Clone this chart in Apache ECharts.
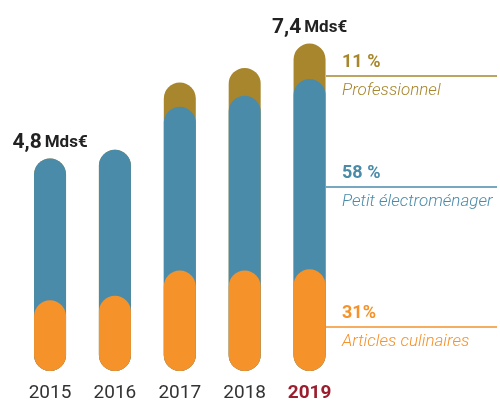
<!DOCTYPE html>
<html>
<head>
<meta charset="utf-8">
<script src="https://cdn.jsdelivr.net/npm/echarts@6/dist/echarts.min.js"></script>
<style>
  html, body { margin: 0; padding: 0; background: #fff; }
  #chart { width: 500px; height: 403px; }
</style>
</head>
<body>
<div id="chart"></div>
<script>
const years = ['2015', '2016', '2017', '2018', '2019']
// Mds€ per segment
const culinaires = [1.6, 1.7, 2.27, 2.27, 2.3]
const electro = [3.2, 3.3, 3.7, 3.95, 4.3]
const professionnel = [0, 0, 0.55, 0.63, 0.8]
const totalLabels = ['4,8', '', '', '', '7,4']
const shareLabels = ['31%', '58 %', '11 %']
const shareNames = ['Articles culinaires', 'Petit électroménager', 'Professionnel']

const orange = '#F5922A'
const blue = '#4A8BAA'
const gold = '#A8862E'
const font = 'Roboto'

// pills overlap, so each one is drawn from 0 to its cumulated value
var cumElectro = []
var cumPro = []
for (let i = 0; i < years.length; i++) {
  cumElectro.push(+(culinaires[i] + electro[i]).toFixed(2))
  cumPro.push(+(culinaires[i] + electro[i] + professionnel[i]).toFixed(2))
}

var myChart = echarts.init(document.getElementById('chart'))

function pill(name, data, color, z) {
  return {
    name: name,
    type: 'bar',
    data: data,
    barWidth: 32,
    barGap: '-100%',
    z: z,
    silent: true,
    itemStyle: { color: color, borderRadius: 16 }
  }
}

var proSeries = pill('Professionnel', cumPro, gold, 1)
proSeries.label = {
  show: true,
  position: 'top',
  distance: 5,
  fontFamily: font,
  formatter: (params) => {
    let t = totalLabels[params.dataIndex]
    return t ? '{num|' + t + '} {unit|Mds€}' : ''
  },
  rich: {
    num: { fontSize: 21, fontWeight: 'bold', color: '#222', fontFamily: font },
    unit: { fontSize: 17, fontWeight: 'bold', color: '#222', fontFamily: font }
  }
}

// annotations on the right of the last bar
var annot = [
  { y: 327, color: orange },
  { y: 187, color: blue },
  { y: 76, color: gold }
]
var graphics = []
annot.forEach((a, i) => {
  graphics.push({
    type: 'line',
    shape: { x1: 326, y1: a.y, x2: 497, y2: a.y },
    style: { stroke: a.color, lineWidth: 1.5 }
  })
  graphics.push({
    type: 'text',
    x: 342, y: a.y - 14,
    style: {
      text: shareLabels[i], fill: a.color, font: 'bold 18px ' + font,
      verticalAlign: 'middle'
    }
  })
  graphics.push({
    type: 'text',
    x: 342, y: a.y + 15,
    style: {
      text: shareNames[i], fill: a.color, font: 'italic 300 17px ' + font,
      verticalAlign: 'middle'
    }
  })
})

const option = {
  animation: false,
  grid: { left: 17.6, right: 158, top: 17, bottom: 30 },
  xAxis: {
    type: 'category',
    data: years,
    axisLine: { show: false },
    axisTick: { show: false },
    axisLabel: {
      interval: 0,
      margin: 13,
      fontFamily: font,
      fontSize: 19,
      color: '#333',
      formatter: (v) => v == '2019' ? '{hl|' + v + '}' : v,
      rich: {
        hl: { fontFamily: font, fontSize: 19, fontWeight: 'bold', color: '#9B1D2E' }
      }
    }
  },
  yAxis: {
    type: 'value',
    min: 0,
    max: 8,
    show: false,
    splitLine: { show: false }
  },
  series: [
    proSeries,
    pill('Petit électroménager', cumElectro, blue, 2),
    pill('Articles culinaires', culinaires, orange, 3)
  ],
  graphic: graphics
}
myChart.setOption(option)
</script>
</body>
</html>
